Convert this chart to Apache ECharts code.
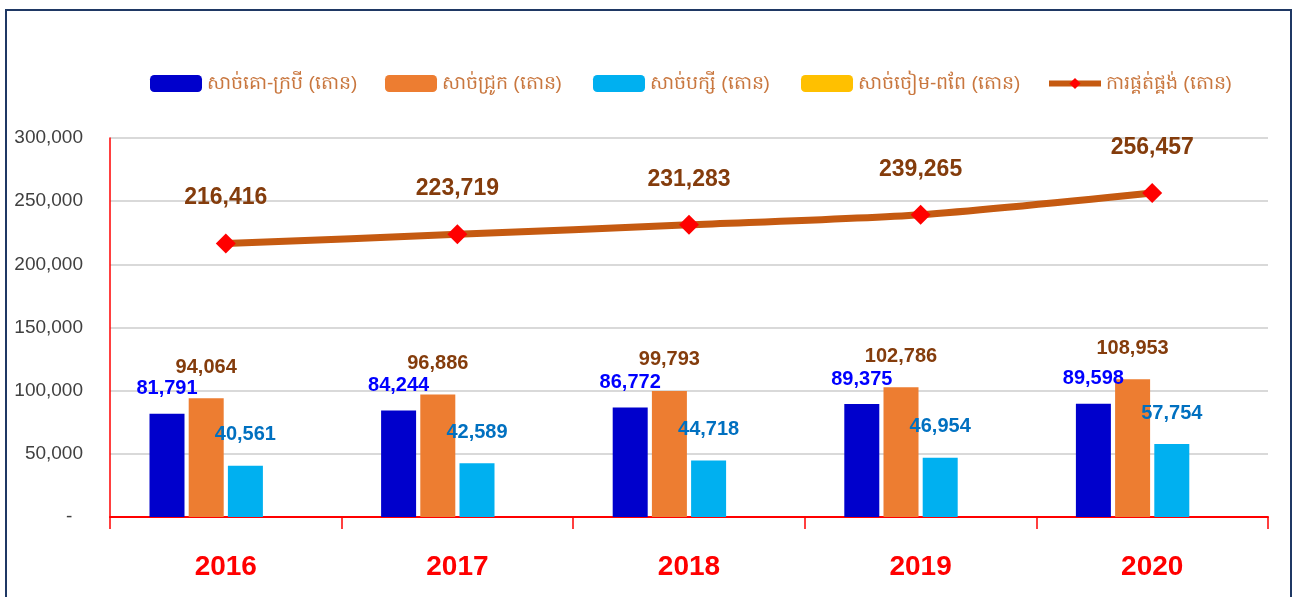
<!DOCTYPE html>
<html>
<head>
<meta charset="utf-8">
<script src="https://cdn.jsdelivr.net/npm/echarts@6/dist/echarts.min.js"></script>
<style>
  html, body { margin: 0; padding: 0; background: #fff; }
  #chart { position: absolute; left: 0; top: 0; width: 1298px; height: 597px; }
  #frame {
    position: absolute; left: 5px; top: 9px; width: 1283px; height: 620px;
    border: 2px solid #1f3864; pointer-events: none;
  }
</style>
</head>
<body>
<div id="chart"></div>
<div id="frame"></div>
<script>
const years = ["2016", "2017", "2018", "2019", "2020"];
const beefName = "សាច់គោ-ក្របី (តោន)";
const porkName = "សាច់ជ្រូក (តោន)";
const poultryName = "សាច់បក្សី (តោន)";
const goatName = "សាច់ចៀម-ពពែ (តោន)";
const supplyName = "ការផ្គត់ផ្គង់ (តោន)";

const beef = [81791, 84244, 86772, 89375, 89598];
const pork = [94064, 96886, 99793, 102786, 108953];
const poultry = [40561, 42589, 44718, 46954, 57754];
const goat = [null, null, null, null, null];
const supply = [216416, 223719, 231283, 239265, 256457];

const yTicks = [0, 50000, 100000, 150000, 200000, 250000, 300000];

const font = "'Liberation Sans', Arial, sans-serif";
const fmt = (v) => Number(v).toLocaleString("en-US");

function barSeries(name, data, color, labelColor, distance) {
  return {
    name,
    type: "bar",
    data,
    barWidth: 35,
    barGap: "12%",
    itemStyle: { color },
    label: {
      show: true,
      position: "top",
      distance,
      color: labelColor,
      fontFamily: font,
      fontWeight: "bold",
      fontSize: 20,
      formatter: (p) => fmt(p.value),
    },
  };
}

function legendAt(name, left) {
  return {
    data: [name],
    left,
    top: 69,
    itemWidth: 52,
    itemHeight: 17,
    textStyle: { color: "#c9773f", fontSize: 19 },
  };
}

const chart = echarts.init(document.getElementById("chart"));
chart.setOption({
  animation: false,
  backgroundColor: "#fff",
  legend: [
    legendAt(beefName, 145),
    legendAt(porkName, 380),
    legendAt(poultryName, 588),
    legendAt(goatName, 796),
    {
      ...legendAt(supplyName, 1041),
      itemHeight: 14,
      lineStyle: { width: 6, color: "#c55a11" },
    },
  ],
  grid: { left: 110, right: 30, top: 138, bottom: 80 },
  xAxis: {
    type: "category",
    data: years,
    axisLine: { lineStyle: { color: "#ff0000", width: 2 } },
    axisTick: { show: true, lineStyle: { color: "#ff0000", width: 1.5 }, length: 12 },
    axisLabel: {
      color: "#ff0000",
      fontFamily: font,
      fontWeight: "bold",
      fontSize: 28,
      margin: 36,
    },
  },
  yAxis: {
    type: "value",
    min: yTicks[0],
    max: yTicks[yTicks.length - 1],
    interval: yTicks[1] - yTicks[0],
    axisLine: { show: true, lineStyle: { color: "#ff0000", width: 1.5 } },
    axisTick: { show: false },
    splitLine: { lineStyle: { color: "#d9d9d9", width: 2 } },
    axisLabel: {
      color: "#404040",
      fontFamily: font,
      fontSize: 19,
      margin: 27,
      formatter: (v) => (v === 0 ? "-  " : fmt(v)),
    },
  },
  series: [
    barSeries(beefName, beef, "#0000cc", "#0000ff", 15),
    barSeries(porkName, pork, "#ed7d31", "#843c0c", 21),
    barSeries(poultryName, poultry, "#00b0f0", "#0070c0", 21),
    barSeries(goatName, goat, "#ffc000", "#bf9000", 21),
    {
      name: supplyName,
      type: "line",
      data: supply,
      smooth: 0.25,
      symbol: "diamond",
      symbolSize: 20,
      lineStyle: { color: "#c55a11", width: 7 },
      itemStyle: { color: "#ff0000", borderWidth: 0 },
      label: {
        show: true,
        position: "top",
        distance: 24,
        color: "#843c0c",
        fontFamily: font,
        fontWeight: "bold",
        fontSize: 23,
        formatter: (p) => fmt(p.value),
      },
      z: 5,
    },
  ],
});
</script>
</body>
</html>
